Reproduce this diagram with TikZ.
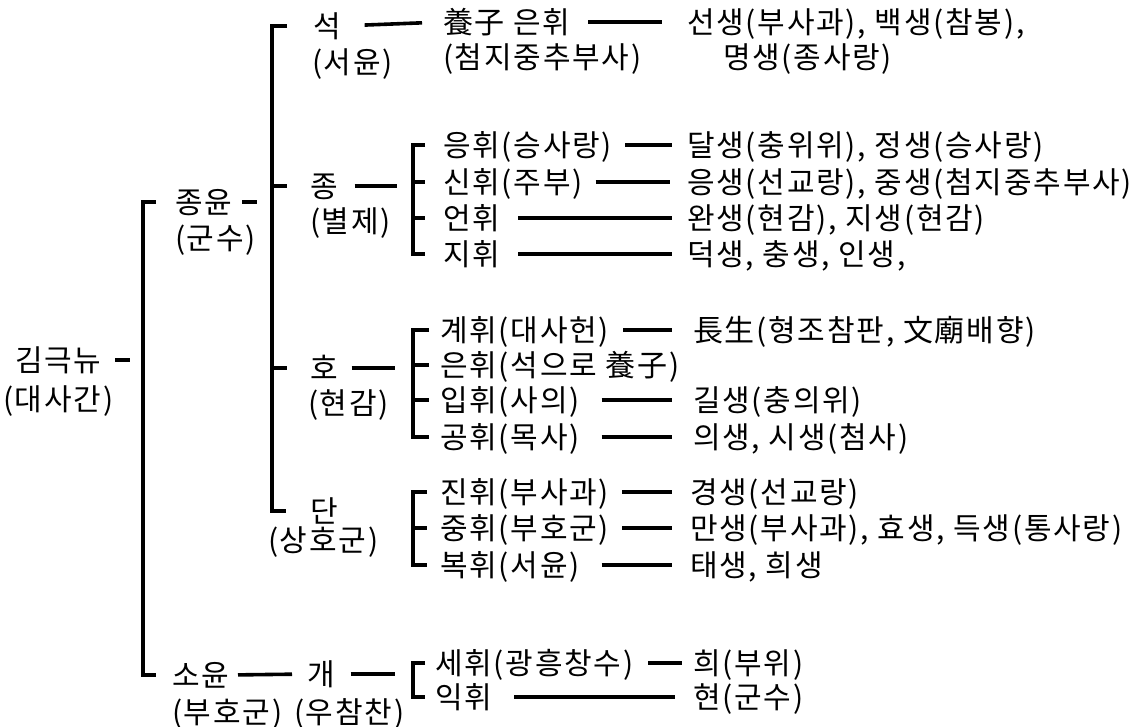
\documentclass[tikz,border=0pt]{standalone}
\usepackage{fontspec}
\setmainfont{Noto Sans CJK KR}[LetterSpace=6]
\begin{document}
\begin{tikzpicture}[x=1pt,y=-1pt,
  lbl/.style={anchor=west,inner sep=0pt,outer sep=0pt,text height=26.5pt,text depth=4pt,font=\fontsize{30}{36}\selectfont},
  conn/.style={line width=3.6pt}]
\fill[white] (0,0) rectangle (1134,726);
\useasboundingbox (0,0) rectangle (1134,726);
\coordinate (sp1) at (143,0);
\coordinate (sp2) at (272,0);
\coordinate (sp3) at (413,0);
% level 0
\node[lbl] (gkn) at (15,360) {김극뉴};
\node[lbl] (gknb) at (3,399) {(대사간)};
% level 1
\node[lbl] (jy) at (175,202) {종윤};
\node[lbl] (jyb) at (175,238) {(군수)};
\node[lbl] (sy) at (172,675) {소윤};
\node[lbl] (syb) at (172,712) {(부호군)};
% level 2
\node[lbl] (seok) at (313,26) {석};
\node[lbl] (seokb) at (312,62) {(서윤)};
\node[lbl] (jong) at (310,186) {종};
\node[lbl] (jongb) at (310,221) {(별제)};
\node[lbl] (ho) at (310,368) {호};
\node[lbl] (hob) at (308,403) {(현감)};
\node[lbl] (dan) at (310,511) {단};
\node[lbl] (danb) at (268,540) {(상호군)};
\node[lbl] (gae) at (307,674) {개};
\node[lbl] (gaeb) at (294,712) {(우참찬)};
% level 3
\node[lbl] (eunA) at (443,22) {養子 은휘};
\node[lbl] (eunAb) at (443,57) {(첨지중추부사)};
\node[lbl] (eung) at (443,145) {응휘(승사랑)};
\node[lbl] (sin) at (443,182) {신휘(주부)};
\node[lbl] (eon) at (443,218) {언휘};
\node[lbl] (ji) at (443,254) {지휘};
\node[lbl] (gye) at (440,330) {계휘(대사헌)};
\node[lbl] (eunB) at (440,365) {은휘(석으로 養子)};
\node[lbl] (ip) at (440,400) {입휘(사의)};
\node[lbl] (gong) at (440,437) {공휘(목사)};
\node[lbl] (jin) at (440,492) {진휘(부사과)};
\node[lbl] (jung) at (440,528) {중휘(부호군)};
\node[lbl] (bok) at (440,565) {복휘(서윤)};
\node[lbl] (se) at (435,663) {세휘(광흥창수)};
\node[lbl] (ik) at (435,697) {익휘};
% level 4
\node[lbl] (c1) at (687,22) {선생(부사과), 백생(참봉),};
\node[lbl] (c1b) at (723,57) {명생(종사랑)};
\node[lbl] (c2) at (687,145) {달생(충위위), 정생(승사랑)};
\node[lbl] (c3) at (687,182) {응생(선교랑), 중생(첨지중추부사)};
\node[lbl] (c4) at (687,218) {완생(현감), 지생(현감)};
\node[lbl] (c5) at (687,254) {덕생, 충생, 인생,};
\node[lbl] (c6) at (693,330) {長生(형조참판, 文廟배향)};
\node[lbl] (c7) at (693,400) {길생(충의위)};
\node[lbl] (c8) at (693,437) {의생, 시생(첨사)};
\node[lbl] (c9) at (690,492) {경생(선교랑)};
\node[lbl] (c10) at (690,528) {만생(부사과), 효생, 득생(통사랑)};
\node[lbl] (c11) at (690,565) {태생, 희생};
\node[lbl] (c12) at (693,663) {희(부위)};
\node[lbl] (c13) at (693,697) {현(군수)};
% dashes
\draw[conn] ([xshift=14pt]gkn.east) -- ([xshift=29pt]gkn.east);
\draw[conn] ([xshift=10pt]jy.east) -- ([xshift=25pt]jy.east);
% brackets
\draw[conn] ([xshift=-19pt]jy.west) -- (jy.west -| sp1) -- (sy.west -| sp1) -- ([xshift=-16pt]sy.west);
\draw[conn] ([xshift=-26pt]seok.west) -- (seok.west -| sp2) -- (dan.west -| sp2) -- ([xshift=-24pt]dan.west);
\draw[conn] (jong.west -| sp2) -- ([xshift=-23pt]jong.west);
\draw[conn] (ho.west -| sp2) -- ([xshift=-23pt]ho.west);
\draw[conn] ([xshift=-18pt]eung.west) -- (eung.west -| sp3) -- (ji.west -| sp3) -- ([xshift=-18pt]ji.west);
\draw[conn] (sin.west -| sp3) -- ([xshift=-18pt]sin.west);
\draw[conn] (eon.west -| sp3) -- ([xshift=-18pt]eon.west);
\draw[conn] ([xshift=-11pt]gye.west) -- (gye.west -| sp3) -- (gong.west -| sp3) -- ([xshift=-11pt]gong.west);
\draw[conn] (eunB.west -| sp3) -- ([xshift=-11pt]eunB.west);
\draw[conn] (ip.west -| sp3) -- ([xshift=-11pt]ip.west);
\draw[conn] ([xshift=-13pt]jin.west) -- (jin.west -| sp3) -- (bok.west -| sp3) -- ([xshift=-13pt]bok.west);
\draw[conn] (jung.west -| sp3) -- ([xshift=-13pt]jung.west);
\draw[conn] ([xshift=-10pt]se.west) -- (se.west -| sp3) -- (ik.west -| sp3) -- ([xshift=-10pt]ik.west);
% connectors
\draw[conn,shorten <=24pt,shorten >=21pt] (seok.east) -- (eunA.west);
\draw[conn,shorten <=17pt,shorten >=16pt] (jong.east) -- (jong.east -| sp3);
\draw[conn,shorten <=14pt,shorten >=18pt] (ho.east) -- (ho.east -| sp3);
\draw[conn,shorten <=9pt,shorten >=15pt] (sy.east) -- (gae.west);
\draw[conn,shorten <=16pt,shorten >=18pt] (gae.east) -- (gae.east -| sp3);
\draw[conn,shorten <=18pt,shorten >=25pt] (eunA.east) -- (c1.west);
\draw[conn,shorten <=13pt,shorten >=15pt] (eung.east) -- (c2.west);
\draw[conn,shorten <=13pt,shorten >=17pt] (sin.east) -- (c3.west);
\draw[conn,shorten <=18pt,shorten >=15pt] (eon.east) -- (c4.west);
\draw[conn,shorten <=18pt,shorten >=15pt] (ji.east) -- (c5.west);
\draw[conn,shorten <=14pt,shorten >=21pt] (gye.east) -- (c6.west);
\draw[conn,shorten <=22pt,shorten >=21pt] (ip.east) -- (c7.west);
\draw[conn,shorten <=22pt,shorten >=21pt] (gong.east) -- (c8.west);
\draw[conn,shorten <=13pt,shorten >=18pt] (jin.east) -- (c9.west);
\draw[conn,shorten <=13pt,shorten >=18pt] (jung.east) -- (c10.west);
\draw[conn,shorten <=22pt,shorten >=18pt] (bok.east) -- (c11.west);
\draw[conn,shorten <=15pt,shorten >=11pt] (se.east) -- (c12.west);
\draw[conn,shorten <=22pt,shorten >=18pt] (ik.east) -- (c13.west);
\end{tikzpicture}
\end{document}
